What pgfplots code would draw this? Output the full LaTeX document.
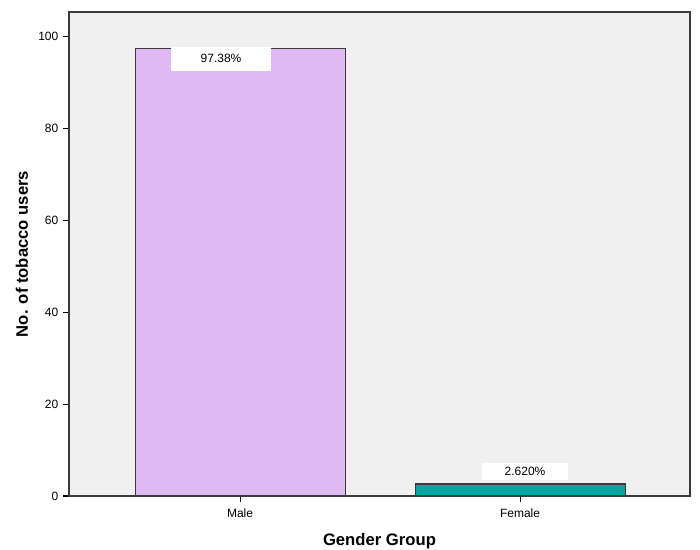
\documentclass[border=0pt]{standalone}
\usepackage{pgfplots}
\pgfplotsset{compat=1.18}
\usepackage{fontspec}
\setmainfont{Liberation Sans}
\definecolor{bg}{HTML}{F0F0F0}
\definecolor{male}{HTML}{DFBAF2}
\definecolor{female}{HTML}{00A6A0}
\definecolor{edge}{HTML}{3A3A3A}
\begin{document}
\begin{tikzpicture}[x=1pt,y=1pt]
\useasboundingbox (-51.75,-40.5) rectangle (473.25,372);
\begin{axis}[
  at={(0,0)}, anchor=south west,
  scale only axis, width=465.75pt, height=363pt,
  xmin=-0.611, xmax=1.607, ymin=0, ymax=105.4,
  axis background/.style={fill=bg},
  ybar, bar width=0.75, bar shift=0pt,
  xtick={0,1}, xticklabels={Male,Female},
  ytick={0,20,...,100},
  tick align=outside, tick pos=left,
  major tick length=4.5pt,
  tick style={black, thick},
  tick label style={font=\fontsize{9}{10}\selectfont},
  xticklabel style={yshift=-1.5pt},
  /pgf/number format/assume math mode=true,
  axis line style={edge, thick},
  xlabel={Gender Group}, ylabel={No. of tobacco users},
  label style={font=\bfseries\fontsize{12.5}{14}\selectfont},
  xlabel style={at={(axis description cs:0.5,-0.093)}, anchor=center},
  ylabel style={at={(axis description cs:-0.0757,0.5)}, anchor=center, rotate=0},
  clip=false,
]
\addplot[fill=male, draw=edge, thick] coordinates {(0,97.38)};
\addplot[fill=female, draw=edge, thick] coordinates {(1,2.62)};
\node[fill=white, minimum width=75pt, minimum height=18pt, inner sep=0pt,
      font=\fontsize{9}{10}\selectfont, xshift=-14.25pt, yshift=-7.5pt]
  at (axis cs:0,97.38) {97.38\%};
\node[fill=white, minimum width=65pt, minimum height=13pt, inner sep=0pt,
      font=\fontsize{9}{10}\selectfont, xshift=3.75pt, yshift=9.4pt]
  at (axis cs:1,2.62) {2.620\%};
\end{axis}
\end{tikzpicture}
\end{document}
